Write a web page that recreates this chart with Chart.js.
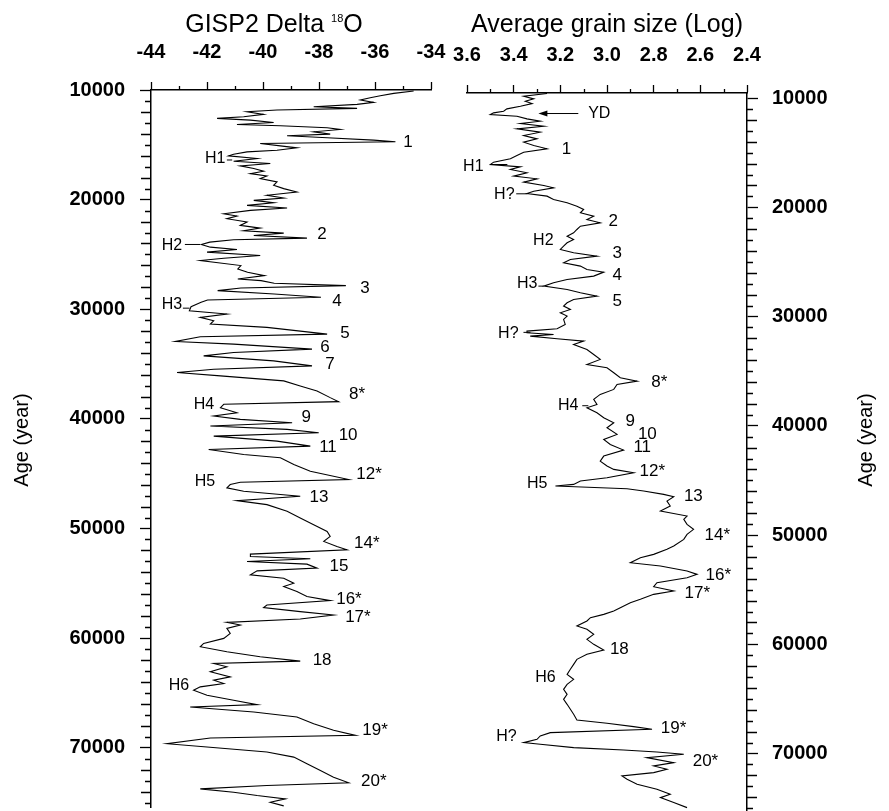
<!DOCTYPE html>
<html lang="en">
<head>
    <meta charset="UTF-8">
    <title>GISP2 Delta 18O and average grain size</title>
    <style>
        body {
            margin: 0;
            background: #fff;
        }
        .wrap {
            position: relative;
            width: 889px;
            height: 811px;
        }
        .wrap canvas {
            position: absolute;
            left: 0;
            top: 0;
        }
    </style>
</head>
<body>
    <div class="wrap">
        <canvas id="gispChart" width="889" height="811"></canvas>
        <canvas id="grainChart" width="889" height="811"></canvas>
    </div>
    <script src="https://cdn.jsdelivr.net/npm/chart.js@4.4.0/dist/chart.umd.min.js"></script>
    <script>
        // GISP2 record: age (years) and delta 18O
        const gispAge = [10091, 10305, 10518, 10701, 10915, 11128, 11311, 11525, 11677, 11830, 11982, 12226, 12440, 12592, 12745, 12958, 13141, 13263, 13446, 13599, 13812, 14026, 14178, 14361, 14575, 14727, 14880, 15093, 15276, 15490, 15642, 15856, 16008, 16252, 16496, 16710, 16923, 17167, 17411, 17625, 17838, 18082, 18387, 18692, 18997, 19302, 19607, 19851, 20065, 20278, 20522, 20766, 20980, 21285, 21498, 21742, 22047, 22352, 22596, 22840, 23054, 23267, 23511, 23664, 23877, 24091, 24335, 24548, 24792, 25097, 25341, 25555, 26013, 26318, 26623, 26928, 27233, 27385, 27629, 27843, 28056, 28300, 28605, 28910, 29154, 29368, 29764, 30130, 30435, 30740, 31045, 31350, 31655, 32265, 32509, 32936, 33180, 33638, 33943, 34248, 34705, 35163, 35468, 35773, 36078, 36535, 36993, 37450, 38060, 38426, 38670, 38975, 39433, 39738, 40043, 40348, 40653, 40958, 41263, 41568, 42025, 42483, 42788, 43245, 43550, 44160, 44770, 45533, 45777, 45990, 46295, 46600, 47058, 47454, 47820, 48430, 49040, 49650, 50260, 50718, 51175, 51633, 51938, 52334, 52548, 52761, 53005, 53249, 53615, 53859, 54225, 54530, 54988, 55293, 55750, 56208, 56574, 56970, 57214, 57580, 57885, 58251, 58556, 58800, 59105, 59563, 60020, 60478, 60783, 61240, 61698, 62094, 62308, 62613, 63070, 63528, 63833, 64138, 64443, 64748, 65205, 65663, 66059, 66273, 66730, 67188, 67798, 68408, 68865, 69109, 69628, 69933, 70390, 70848, 71458, 72068, 72678, 73196, 73440, 73745, 74050, 74355, 74660, 74965, 75300];
        const gispD18O = [-34.62, -35.33, -35.81, -36.17, -36.52, -36.05, -36.64, -38.19, -36.64, -39.5, -40.57, -39.98, -40.69, -41.64, -40.45, -39.62, -40.93, -39.38, -37.71, -37.24, -38.19, -37.6, -39.14, -37.71, -36.05, -35.27, -40.1, -39.38, -38.79, -39.5, -40.57, -41.05, -41.23, -40.21, -41.05, -39.74, -40.81, -40.33, -39.98, -40.45, -39.86, -40.1, -39.5, -39.62, -39.26, -38.79, -39.86, -39.26, -40.33, -39.62, -40.57, -39.14, -40.45, -41.4, -40.93, -41.29, -40.57, -40.81, -40.1, -40.69, -39.26, -40.33, -38.43, -41.05, -41.9, -42.2, -41.88, -40.93, -42.0, -40.1, -41.4, -42.24, -40.79, -40.9, -40.55, -39.95, -40.9, -40.07, -39.6, -37.04, -40.79, -41.62, -39.6, -37.93, -41.98, -42.21, -42.57, -42.63, -41.29, -42.24, -41.76, -41.88, -39.86, -37.71, -42.24, -43.13, -41.05, -38.25, -41.05, -42.12, -39.62, -38.25, -41.76, -43.07, -41.52, -39.26, -38.67, -38.07, -37.6, -37.3, -41.4, -41.52, -40.93, -41.76, -40.81, -38.96, -41.88, -39.14, -38.01, -41.76, -39.5, -38.31, -41.94, -40.69, -39.38, -38.9, -38.31, -36.94, -40.81, -41.17, -41.29, -40.69, -38.67, -40.93, -39.86, -39.14, -38.67, -38.19, -37.71, -37.6, -37.83, -37.36, -37.0, -40.45, -40.45, -38.31, -40.57, -38.43, -38.07, -40.21, -40.45, -39.26, -38.9, -39.26, -38.79, -38.43, -37.6, -39.86, -39.98, -38.67, -37.48, -38.67, -41.29, -40.81, -41.29, -41.17, -41.4, -42.12, -42.24, -41.29, -40.1, -38.67, -41.76, -41.29, -41.88, -41.17, -41.76, -41.4, -42.24, -42.48, -42.0, -41.05, -40.21, -42.6, -40.33, -38.79, -38.19, -37.48, -36.7, -41.88, -43.43, -42.0, -39.86, -38.9, -38.43, -37.95, -37.48, -36.94, -39.86, -42.24, -41.05, -40.21, -39.2, -39.74, -39.26];

        // grain size record: age (years) and log of average grain size
        const grainAge = [9588, 9832, 10076, 10290, 10503, 10747, 10991, 11205, 11357, 11510, 11662, 11906, 12120, 12333, 12577, 12821, 13126, 13431, 13736, 14041, 14346, 14651, 14956, 15261, 15566, 15871, 16085, 16298, 16542, 16847, 17152, 17396, 17701, 18006, 18220, 18525, 18738, 18982, 19287, 19592, 19897, 20202, 20507, 20812, 21117, 21422, 21727, 22032, 22337, 22642, 22947, 23252, 23557, 23862, 24167, 24472, 24777, 25082, 25387, 25692, 25936, 26302, 26607, 26912, 27217, 27522, 27827, 28132, 28437, 28742, 29047, 29352, 29657, 29962, 30267, 30725, 31121, 31335, 31487, 31640, 31792, 32036, 32250, 32555, 33012, 33470, 33927, 34385, 34690, 35147, 35605, 35910, 36215, 36672, 37130, 37587, 38045, 38350, 38807, 39265, 39722, 40180, 40790, 41247, 41705, 42223, 42772, 43230, 43687, 43992, 44297, 44755, 45060, 45365, 45517, 45761, 45975, 46280, 46493, 46890, 47347, 47805, 48262, 48567, 49025, 49482, 49940, 50397, 51007, 51312, 51770, 52075, 52532, 52837, 53295, 53600, 53905, 54362, 54728, 55125, 55430, 55887, 56192, 56650, 56955, 57260, 57565, 57870, 58327, 58632, 59090, 59547, 60005, 60523, 60920, 61377, 61835, 62292, 62750, 63207, 63665, 64122, 64580, 65037, 65495, 65952, 66410, 66928, 67233, 67538, 67782, 68087, 68392, 68697, 69002, 69155, 69460, 69673, 69856, 70070, 70375, 70832, 71137, 71442, 71747, 72052, 72357, 72815, 73272, 73730, 74035, 74492, 74950];
        const grainLog = [3.257, 3.357, 3.314, 3.35, 3.321, 3.371, 3.429, 3.443, 3.486, 3.5, 3.386, 3.343, 3.286, 3.371, 3.271, 3.386, 3.286, 3.357, 3.3, 3.357, 3.314, 3.257, 3.357, 3.386, 3.414, 3.486, 3.5, 3.371, 3.414, 3.343, 3.4, 3.3, 3.357, 3.271, 3.229, 3.314, 3.343, 3.257, 3.229, 3.171, 3.129, 3.1, 3.114, 3.057, 3.086, 3.029, 3.114, 3.129, 3.143, 3.171, 3.143, 3.171, 3.186, 3.2, 3.143, 3.043, 3.157, 3.186, 3.114, 3.086, 3.014, 3.057, 3.171, 3.229, 3.271, 3.171, 3.114, 3.043, 3.143, 3.171, 3.186, 3.157, 3.2, 3.171, 3.186, 3.179, 3.214, 3.343, 3.343, 3.229, 3.329, 3.214, 3.1, 3.143, 3.086, 3.057, 3.029, 3.086, 3.0, 2.971, 2.943, 2.871, 2.957, 2.971, 3.029, 3.057, 3.043, 3.086, 3.043, 3.014, 2.971, 3.0, 2.957, 3.014, 2.986, 2.929, 3.014, 3.029, 3.0, 2.971, 2.886, 3.0, 3.114, 3.143, 3.221, 2.914, 2.843, 2.757, 2.714, 2.743, 2.729, 2.771, 2.657, 2.671, 2.657, 2.629, 2.657, 2.671, 2.714, 2.743, 2.8, 2.857, 2.9, 2.771, 2.657, 2.614, 2.657, 2.786, 2.8, 2.714, 2.8, 2.857, 2.9, 2.943, 2.971, 3.014, 3.071, 3.086, 3.129, 3.086, 3.057, 3.086, 3.057, 3.014, 3.086, 3.129, 3.143, 3.157, 3.171, 3.143, 3.171, 3.186, 3.171, 3.186, 3.171, 3.157, 3.143, 3.129, 3.0, 2.886, 2.807, 3.243, 3.286, 3.3, 3.357, 3.286, 3.143, 2.929, 2.786, 2.671, 2.829, 2.714, 2.8, 2.743, 2.8, 2.936, 2.914, 2.871, 2.786, 2.729, 2.771, 2.714, 2.657];

        // labelled age ticks on both panels
        const ageTicks = [10000, 20000, 30000, 40000, 50000, 60000, 70000];

        // event labels: [text, value, age]
        const gispNotes = [
            ['1', -34.82, 14742], ['H1', -41.71, 16293], ['2', -37.89, 23133], ['H2', -43.25, 24227],
            ['3', -36.36, 28058], ['4', -37.36, 29243], ['H3', -43.25, 29608], ['5', -37.07, 32162],
            ['6', -37.79, 33438], ['7', -37.61, 34989], ['8*', -36.64, 37725], ['H4', -42.11, 38728],
            ['9', -38.46, 39822], ['10', -36.96, 41464], ['11', -37.68, 42558], ['12*', -36.21, 45021],
            ['H5', -42.07, 45750], ['13', -38.0, 47118], ['14*', -36.29, 51314], ['15', -37.29, 53411],
            ['16*', -36.93, 56421], ['17*', -36.61, 58062], ['18', -37.89, 61984], ['H6', -43.0, 64355],
            ['19*', -36.0, 68368], ['20*', -36.04, 73019]
        ];
        // leader lines: [from value, to value, age]
        const gispLeaders = [[-41.29, -41.1, 16384], [-42.79, -42.25, 24091], [-42.86, -42.62, 29900]];

        const grainNotes = [
            ['YD', 3.033, 11418], ['1', 3.174, 14715], ['H1', 3.573, 16273], ['H?', 3.44, 18837],
            ['2', 2.973, 21311], ['H2', 3.273, 23051], ['3', 2.956, 24242], ['4', 2.956, 26257],
            ['H3', 3.342, 26990], ['5', 2.956, 28639], ['H?', 3.423, 31570], ['8*', 2.776, 36058],
            ['H4', 3.166, 38165], ['9', 2.9, 39631], ['10', 2.827, 40821], ['11', 2.849, 42012],
            ['12*', 2.806, 44211], ['H5', 3.299, 45310], ['13', 2.63, 46501], ['14*', 2.527, 49981],
            ['16*', 2.523, 53645], ['17*', 2.613, 55294], ['18', 2.947, 60424], ['H6', 3.264, 63080],
            ['19*', 2.715, 67660], ['H?', 3.431, 68485], ['20*', 2.578, 70683]
        ];
        const grainLeaders = [[3.5, 3.427, 16085], [3.389, 3.341, 18767], [3.294, 3.271, 27217], [3.358, 3.328, 31450], [3.106, 3.08, 38165]];
        const ydArrow = [3.123, 3.294, 11418];

        const FONT = "'Liberation Sans', Arial, sans-serif";

        function points(ages, values) {
            return ages.map((a, i) => ({ x: values[i], y: a }));
        }

        function minorAges(from, to) {
            const list = [];
            for (let a = from; a <= to; a += 1000) {
                if (a % 10000 !== 0) list.push(a);
            }
            return list;
        }

        function setAgeTicks(scale) {
            scale.ticks = ageTicks.map(v => ({ value: v }));
        }

        // keep label overhang from shrinking the plot box
        function noOverhang(scale) {
            scale.paddingTop = 0;
            scale.paddingBottom = 0;
            scale.paddingLeft = 0;
            scale.paddingRight = 0;
        }

        // short ticks between the labelled ones, notes, leaders and titles
        const decorPlugin = {
            id: 'decor',
            afterDraw(chart, args, opts) {
                const ctx = chart.ctx;
                const xs = chart.scales.x;
                const ys = chart.scales.y;
                const yEdge = opts.side === 'left' ? ys.right : ys.left;
                const dir = opts.side === 'left' ? -1 : 1;
                ctx.save();
                ctx.strokeStyle = '#000';
                ctx.fillStyle = '#000';
                ctx.lineWidth = 1.3;
                ctx.beginPath();
                opts.minorX.forEach(v => {
                    const px = Math.round(xs.getPixelForValue(v)) + 0.5;
                    ctx.moveTo(px, xs.bottom);
                    ctx.lineTo(px, xs.bottom - 4);
                });
                opts.minorY.forEach(a => {
                    const py = Math.round(ys.getPixelForValue(a)) + 0.5;
                    const len = (a / 1000) % 2 === 0 ? 10 : 6;
                    ctx.moveTo(yEdge, py);
                    ctx.lineTo(yEdge + dir * len, py);
                });
                ctx.stroke();

                ctx.lineWidth = 1;
                ctx.beginPath();
                opts.leaders.forEach(([v1, v2, a]) => {
                    const py = ys.getPixelForValue(a);
                    ctx.moveTo(xs.getPixelForValue(v1), py);
                    ctx.lineTo(xs.getPixelForValue(v2), py);
                });
                ctx.stroke();

                if (opts.arrow) {
                    const [v1, v2, a] = opts.arrow;
                    const x1 = xs.getPixelForValue(v1), x2 = xs.getPixelForValue(v2);
                    const py = ys.getPixelForValue(a);
                    ctx.beginPath();
                    ctx.moveTo(x1, py);
                    ctx.lineTo(x2 + 6, py);
                    ctx.stroke();
                    ctx.beginPath();
                    ctx.moveTo(x2, py);
                    ctx.lineTo(x2 + 9, py - 3);
                    ctx.lineTo(x2 + 9, py + 3);
                    ctx.closePath();
                    ctx.fill();
                }

                ctx.textAlign = 'center';
                ctx.textBaseline = 'middle';
                opts.notes.forEach(([t, v, a]) => {
                    ctx.font = (t[0] === 'H' || t === 'YD' ? '16px ' : '17px ') + FONT;
                    ctx.fillText(t, xs.getPixelForValue(v), ys.getPixelForValue(a));
                });

                // panel title
                ctx.textBaseline = 'alphabetic';
                ctx.textAlign = 'left';
                const parts = opts.title;
                let width = 0;
                parts.forEach(p => {
                    ctx.font = p.size + 'px ' + FONT;
                    width += ctx.measureText(p.text).width;
                });
                let x = opts.titleX - width / 2;
                parts.forEach(p => {
                    ctx.font = p.size + 'px ' + FONT;
                    ctx.fillText(p.text, x, 32 - (p.rise || 0));
                    x += ctx.measureText(p.text).width;
                });

                // age axis title, read bottom to top
                ctx.save();
                ctx.translate(opts.ageX, 440);
                ctx.rotate(-Math.PI / 2);
                ctx.textAlign = 'center';
                ctx.textBaseline = 'middle';
                ctx.font = '20px ' + FONT;
                ctx.fillText('Age (year)', 0, 0);
                ctx.restore();
                ctx.restore();
            }
        };

        const tickFont = { family: FONT, size: 20, weight: 'bold' };

        new Chart(document.getElementById('gispChart'), {
            type: 'line',
            data: {
                datasets: [{
                    data: points(gispAge, gispD18O),
                    borderColor: '#000',
                    borderWidth: 1.1,
                    pointRadius: 0,
                    tension: 0
                }]
            },
            options: {
                responsive: false,
                animation: false,
                layout: { padding: { left: 0, top: 0, right: 458, bottom: 4 } },
                plugins: {
                    legend: { display: false },
                    tooltip: { enabled: false },
                    decor: {
                        side: 'left',
                        minorX: [-43, -41, -39, -37, -35],
                        minorY: minorAges(11000, 75000),
                        notes: gispNotes,
                        leaders: gispLeaders,
                        arrow: null,
                        titleX: 274,
                        title: [{ text: 'GISP2 Delta ', size: 25 }, { text: '18', size: 11, rise: 10 }, { text: 'O', size: 25 }],
                        ageX: 22
                    }
                },
                scales: {
                    x: {
                        type: 'linear',
                        position: 'top',
                        min: -44,
                        max: -34,
                        afterFit(scale) { scale.height = 90; noOverhang(scale); },
                        border: { display: true, color: '#000', width: 1.5 },
                        grid: { drawOnChartArea: false, drawTicks: true, tickLength: 8, tickColor: '#000', tickWidth: 1.3 },
                        ticks: { stepSize: 2, color: '#000', padding: 18, font: tickFont, maxRotation: 0, callback: v => String(v) }
                    },
                    y: {
                        type: 'linear',
                        position: 'left',
                        reverse: true,
                        min: 10000,
                        max: 75400,
                        afterBuildTicks: setAgeTicks,
                        afterFit(scale) { scale.width = 151; noOverhang(scale); },
                        border: { display: true, color: '#000', width: 1.5 },
                        grid: { drawOnChartArea: false, drawTicks: true, tickLength: 11, tickColor: '#000', tickWidth: 1.3 },
                        ticks: { color: '#000', padding: 15, font: tickFont, autoSkip: false, callback: v => String(v) }
                    }
                }
            },
            plugins: [decorPlugin]
        });

        new Chart(document.getElementById('grainChart'), {
            type: 'line',
            data: {
                datasets: [{
                    data: points(grainAge, grainLog),
                    borderColor: '#000',
                    borderWidth: 1.1,
                    pointRadius: 0,
                    tension: 0
                }]
            },
            options: {
                responsive: false,
                animation: false,
                layout: { padding: { left: 467, top: 0, right: 0, bottom: 0 } },
                plugins: {
                    legend: { display: false },
                    tooltip: { enabled: false },
                    decor: {
                        side: 'right',
                        minorX: [3.5, 3.3, 3.1, 2.9, 2.7, 2.5],
                        minorY: minorAges(11000, 75000),
                        notes: grainNotes,
                        leaders: grainLeaders,
                        arrow: ydArrow,
                        titleX: 607,
                        title: [{ text: 'Average grain size (Log)', size: 25 }],
                        ageX: 866
                    }
                },
                scales: {
                    x: {
                        type: 'linear',
                        position: 'top',
                        reverse: true,
                        min: 2.4,
                        max: 3.6,
                        afterFit(scale) { scale.height = 93; noOverhang(scale); },
                        border: { display: true, color: '#000', width: 1.5 },
                        grid: { drawOnChartArea: false, drawTicks: true, tickLength: 8, tickColor: '#000', tickWidth: 1.3 },
                        ticks: { stepSize: 0.2, color: '#000', padding: 18, font: tickFont, maxRotation: 0, callback: v => v.toFixed(1) }
                    },
                    y: {
                        type: 'linear',
                        position: 'right',
                        reverse: true,
                        min: 9540,
                        max: 75260,
                        afterBuildTicks: setAgeTicks,
                        afterFit(scale) { scale.width = 142; noOverhang(scale); },
                        border: { display: true, color: '#000', width: 1.5 },
                        grid: { drawOnChartArea: false, drawTicks: true, tickLength: 11, tickColor: '#000', tickWidth: 1.3 },
                        ticks: { color: '#000', padding: 14, font: tickFont, autoSkip: false, callback: v => String(v) }
                    }
                }
            },
            plugins: [decorPlugin]
        });
    </script>
</body>
</html>
